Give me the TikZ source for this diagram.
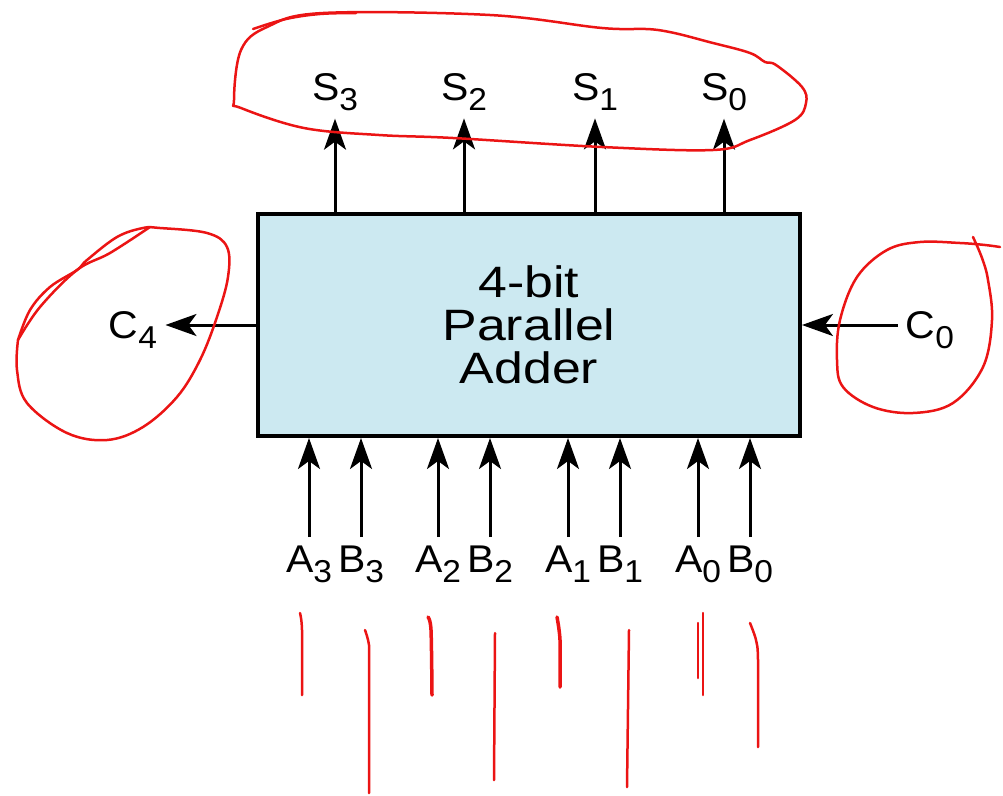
\documentclass[tikz,border=0pt]{standalone}
\usepackage{fontspec}
\setmainfont[FakeStretch=1.18]{Liberation Sans}
\newfontfamily\labfont[FakeStretch=1.06]{Liberation Sans}
\usetikzlibrary{arrows.meta}
\definecolor{boxfill}{RGB}{204,233,241}
\definecolor{inkred}{RGB}{235,20,20}
\newcommand\labtxt[2]{#1\raisebox{-5.7pt}{\fontsize{18}{18}\selectfont #2}}
\tikzset{
  arr/.style={line width=0.06cm, -{Stealth[length=0.62cm, width=0.44cm, inset=0.16cm]}},
  lab/.style={inner sep=0.16cm, anchor=base, font=\labfont\fontsize{22}{22}\selectfont},
  ink/.style={inkred, line width=0.05cm, line cap=round, line join=round},
}
\begin{document}
\begin{tikzpicture}[x=0.02cm, y=-0.02cm]
\useasboundingbox (0,0) rectangle (1003,795);
\node[draw, line width=0.08cm, fill=boxfill, minimum width=10.84cm, minimum height=4.44cm,
  inner sep=0, align=center, font=\fontsize{25}{24.6}\selectfont] (box) at (529,325) {4-bit\\Parallel\\Adder};
% outputs
\node[lab] (s3) at (335,100) {\labtxt{S}{3}};
\node[lab] (s2) at (464,100) {\labtxt{S}{2}};
\node[lab] (s1) at (595,100) {\labtxt{S}{1}};
\node[lab] (s0) at (724,100) {\labtxt{S}{0}};
\foreach \n in {s3,s2,s1,s0} \draw[arr] (box.north -| \n) -- (\n.south);
% inputs
\node[lab] (a3) at (309,572) {\labtxt{A}{3}};
\node[lab] (b3) at (361,572) {\labtxt{B}{3}};
\node[lab] (a2) at (438,572) {\labtxt{A}{2}};
\node[lab] (b2) at (490,572) {\labtxt{B}{2}};
\node[lab] (a1) at (568,572) {\labtxt{A}{1}};
\node[lab] (b1) at (620,572) {\labtxt{B}{1}};
\node[lab] (a0) at (698,572) {\labtxt{A}{0}};
\node[lab] (b0) at (750,572) {\labtxt{B}{0}};
\foreach \n in {a3,b3,a2,b2,a1,b1,a0,b0} \draw[arr] (\n.north) -- (\n.north |- box.south);
% carries
\node[lab] (c4) at (133,338) {\labtxt{C}{4}};
\node[lab] (c0) at (930,338) {\labtxt{C}{0}};
\draw[arr] (box.west) -- (c4.east |- box.west);
\draw[arr] (c0.west |- box.east) -- (box.east);
% red annotations
\draw[ink] plot[smooth cycle, tension=0.6] coordinates {(234,100) (241,50) (267,27) (323,13) (490,15) (602,28) (658,30) (713,43) (750,53) (765,62) (776,65) (802,87) (806,103) (795,120) (750,140) (713,150) (602,147) (453,138) (379,135) (304,128) (241,108)};
\draw[ink] plot[smooth, tension=0.6] coordinates {(253,29) (286,19) (320,14) (356,13)};
\draw[ink] plot[smooth, tension=0.6] coordinates {(18,340) (17,370) (27,403) (67,433) (107,440) (143,427) (177,397) (200,360) (217,317) (228,277) (227,247) (207,233) (160,228) (143,228) (117,237) (87,260) (77,270) (50,287) (30,310) (18,340)};
\draw[ink] plot[smooth, tension=0.6] coordinates {(18,340) (40,307) (77,270) (110,253) (150,227)};
\draw[ink] plot[smooth, tension=0.6] coordinates {(973,237) (982,258) (988,280) (992,320) (983,367) (953,403) (913,413) (873,407) (843,387) (837,360) (840,320) (857,277) (887,250) (920,242) (960,243) (985,245) (1000,247)};
% red strokes below
\draw[ink] plot[smooth] coordinates {(300,613) (302,630) (302,695)};
\draw[ink] plot[smooth] coordinates {(365,630) (369,645) (369,670) (369,793)};
\draw[ink, line width=0.07cm] plot[smooth] coordinates {(428,617) (431,630) (432,695)};
\draw[ink] (495,633) -- (494,780);
\draw[ink, line width=0.07cm] plot[smooth] coordinates {(557,617) (560,640) (560,687)};
\draw[ink] (629,630) -- (627,787);
\draw[ink] (703,613) -- (703,695);
\draw[ink] (698,623) -- (698,678);
\draw[ink] plot[smooth] coordinates {(750,623) (756,640) (758,660) (758,747)};
\end{tikzpicture}
\end{document}
